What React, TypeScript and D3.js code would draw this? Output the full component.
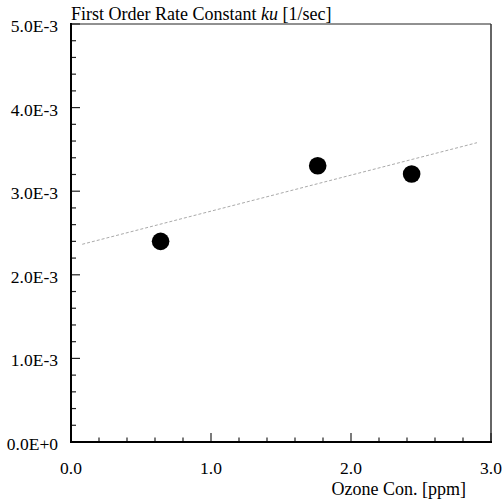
import React from "react";
import * as d3 from "d3";

const ozone = [0.64, 1.762, 2.433];
const rateK = [2.4e-3, 3.305e-3, 3.206e-3];
const trendX = [0.08, 2.9];
const trendY = [2.365e-3, 3.58e-3];
const xMajor = [0, 1, 2, 3];
const xMajorLabels = ["0.0", "1.0", "2.0", "3.0"];
const yMajor = [0, 1e-3, 2e-3, 3e-3, 4e-3, 5e-3];
const yMajorLabels = ["0.0E+0", "1.0E-3", "2.0E-3", "3.0E-3", "4.0E-3", "5.0E-3"];

const W = 502, H = 502;
const L = 71, R = 491, T = 24, B = 442;
const FONT = "'Liberation Serif', 'Times New Roman', serif";

export default function App() {
  const x = d3.scaleLinear().domain([0, 3]).range([L, R]);
  const y = d3.scaleLinear().domain([0, 5e-3]).range([B, T]);
  const xMinor = d3.range(0, 3.0001, 0.2).filter((v) => Math.abs(v - Math.round(v)) > 1e-6);
  const yMinor = d3.range(0, 5.0001e-3, 0.2e-3).filter((v) => Math.abs(v * 1000 - Math.round(v * 1000)) > 1e-6);
  const line = d3.line<number>().x((_, i) => x(trendX[i])).y((d) => y(d));

  return (
    <svg width={W} height={H} style={{ position: "absolute", left: 0, top: 0, background: "#fff" }}>
      <rect x={0} y={0} width={W} height={H} fill="#fff" />
      {/* frame */}
      <line x1={L} x2={R} y1={T} y2={T} stroke="#222" strokeWidth={1} />
      <line x1={R} x2={R} y1={T} y2={B} stroke="#333" strokeWidth={1.5} />
      {/* ticks */}
      {xMinor.map((v) => (
        <line key={"xm" + v} x1={x(v)} x2={x(v)} y1={B} y2={B - 4.5} stroke="#222" strokeWidth={1.2} />
      ))}
      {xMajor.map((v) => (
        <line key={"xM" + v} x1={x(v)} x2={x(v)} y1={B} y2={B - 9} stroke="#222" strokeWidth={1.2} />
      ))}
      {yMinor.map((v) => (
        <line key={"ym" + v} x1={L} x2={L + 5} y1={y(v)} y2={y(v)} stroke="#222" strokeWidth={1.2} />
      ))}
      {yMajor.map((v) => (
        <line key={"yM" + v} x1={L} x2={L + 9} y1={y(v)} y2={y(v)} stroke="#222" strokeWidth={1.2} />
      ))}
      <line x1={L} x2={L} y1={T - 1} y2={B + 1} stroke="#000" strokeWidth={2} />
      <line x1={L - 1} x2={R + 1} y1={B} y2={B} stroke="#000" strokeWidth={2} />
      {/* trend line */}
      <path d={line(trendY) || ""} fill="none" stroke="#aaa" strokeWidth={1} strokeDasharray="3,2" />
      {/* points */}
      {ozone.map((v, i) => (
        <circle key={"p" + i} cx={x(v)} cy={y(rateK[i])} r={8.8} fill="#000" />
      ))}
      {/* labels */}
      {xMajor.map((v, i) => (
        <text key={"xl" + v} x={x(v)} y={474} textAnchor="middle" fontFamily={FONT} fontSize={17.5} fill="#000">
          {xMajorLabels[i]}
        </text>
      ))}
      {yMajor.map((v, i) => (
        <text key={"yl" + v} x={58} y={y(v) + 8} textAnchor="end" fontFamily={FONT} fontSize={17.5} fill="#000">
          {yMajorLabels[i]}
        </text>
      ))}
      <text x={71} y={20} fontFamily={FONT} fontSize={18} fill="#000">
        First Order Rate Constant <tspan fontStyle="italic">ku</tspan> [1/sec]
      </text>
      <text x={466} y={495} textAnchor="end" fontFamily={FONT} fontSize={18} fill="#000">
        Ozone Con. [ppm]
      </text>
    </svg>
  );
}
